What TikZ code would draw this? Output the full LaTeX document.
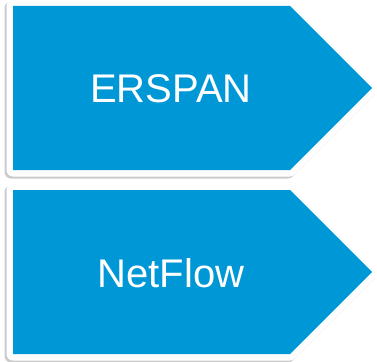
\documentclass[tikz,border=0pt]{standalone}
\usepackage{fontspec}
\setmainfont{Liberation Sans}
\usepackage{tikz}
\usetikzlibrary{shadows,positioning}
\definecolor{ciscoblaa}{RGB}{0,151,214}
\tikzset{
    pil/.style={
           drop shadow={draw=black!45, fill=black!45, line width=13pt, line join=round,
                        shadow xshift=-2pt, shadow yshift=-2pt, opacity=.45},
           preaction={draw=white, line width=13pt, line join=round},
           fill=ciscoblaa},
    tekst/.style={
           text=white,
           font=\fontsize{40pt}{40pt}\selectfont,
           inner sep=0pt}
}
\begin{document}
\begin{tikzpicture}[x=1pt, y=-1pt]
        \useasboundingbox (0,0) rectangle (377,361);
        \path[pil] (13,6) -- (290,6) -- (372,88) -- (290,170) -- (13,170) -- cycle;
        \path[pil] (13,190) -- (290,190) -- (372,272) -- (290,354) -- (13,354) -- cycle;
        \node[tekst] (erspan) at (171,89) {ERSPAN};
        \node[tekst] (netflow) at (171,273.5) {NetFlow};
    \end{tikzpicture}
\end{document}
